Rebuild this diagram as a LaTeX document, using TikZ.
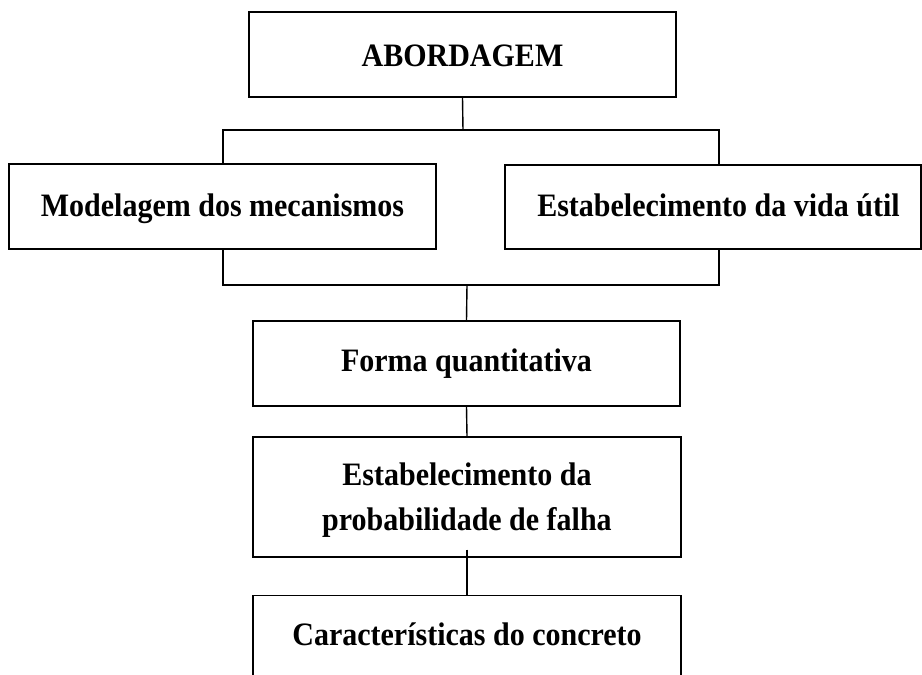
\documentclass[tikz,border=0pt]{standalone}
\usepackage{fontspec}
\usepackage{graphicx}
\setmainfont{Liberation Serif}
\newcommand\tx[1]{\scalebox{1}[1.09]{#1}}
\begin{document}
\begin{tikzpicture}[x=1pt,y=-1pt,
  boxnode/.style={draw, line width=1.4pt, inner sep=0pt, font=\bfseries\fontsize{30}{41.3}\selectfont},
  lbl/.style={inner sep=0pt, font=\bfseries\fontsize{30}{41.3}\selectfont},
  link/.style={line width=1.4pt}]
\useasboundingbox (0,0) rectangle (922,675);
\fill[white] (0,0) rectangle (922,675);
\node[boxnode, minimum width=427pt, minimum height=85pt, text height=24.4pt, text depth=0pt] (a) at (462.5,54.5) {\tx{ABORDAGEM}};
\node[boxnode, minimum width=427pt, minimum height=85pt, text height=19pt, text depth=0pt] (l) at (222.5,206.5) {\tx{Modelagem dos mecanismos}};
\node[boxnode, minimum width=416pt, minimum height=84pt, text height=18pt, text depth=0pt] (r) at (713,207) {\hspace*{11pt}\tx{Estabelecimento da vida útil}};
\node[boxnode, minimum width=427pt, minimum height=85pt, text height=16.4pt, text depth=0pt] (f) at (466.5,363.5) {\tx{Forma quantitativa}};
\node[boxnode, minimum width=428pt, minimum height=120pt, text height=10pt, text depth=34pt] (b) at (467,497) {\tx{\begin{tabular}[t]{@{}c@{}}Estabelecimento da\\probabilidade de falha\end{tabular}}};
\begin{scope}
  \clip (0,0) rectangle (922,675);
  \node[boxnode, minimum width=428pt, minimum height=160pt, anchor=north] (c) at (467,595) {};
\end{scope}
\node[lbl, anchor=base] (ct) at (467,645) {\tx{Características do concreto}};
\coordinate (t1) at (463,130);
\coordinate (t2) at (467,285);
\draw[link] (a.south) -- (t1);
\draw[link] ([xshift=0.5pt]l.north) |- (t1) -| ([xshift=6pt]r.north);
\draw[link] ([xshift=0.5pt]l.south) |- (t2) -| ([xshift=6pt]r.south);
\draw[link] (t2) -- (f.north);
\draw[link] (f.south) -- (b.north);
\draw[link] ([yshift=8pt]b.south) -- (c.north);
\end{tikzpicture}
\end{document}
